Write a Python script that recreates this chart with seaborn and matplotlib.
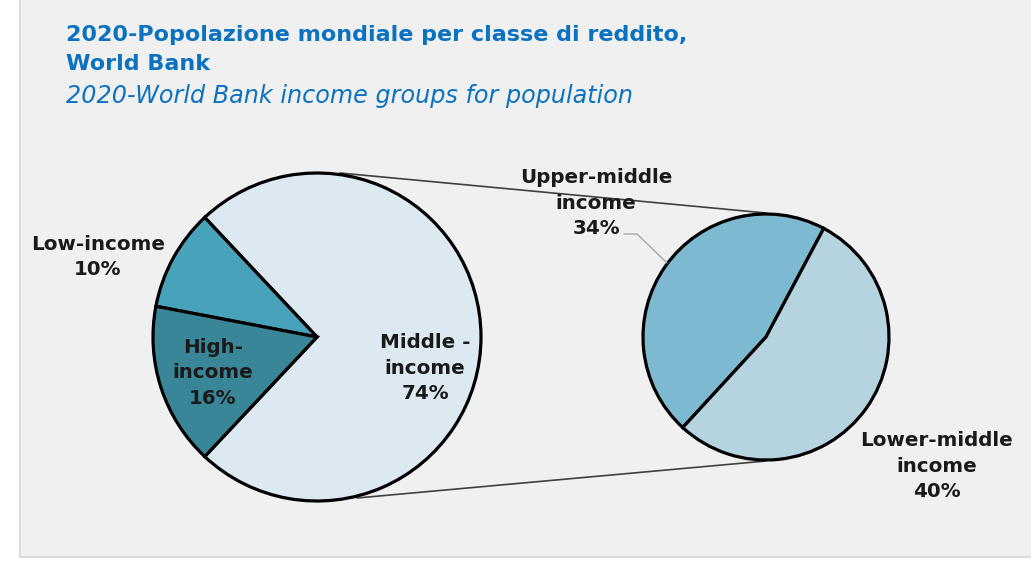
import matplotlib
matplotlib.use("Agg")
import matplotlib.pyplot as plt
from matplotlib.patches import Rectangle
import seaborn as sns

# Income groups (share of world population, 2020)
main_labels = ["Middle -\nincome", "Low-income", "High-\nincome"]
main_values = [74, 10, 16]
sub_labels = ["Upper-middle\nincome", "Lower-middle\nincome"]
sub_values = [34, 40]

main_colors = ["#DCE9F0", "#48A2BA", "#3A8699"]
sub_colors = ["#7DB9D0", "#B5D4DF"]

sns.set_theme(style="white")
plt.rcParams["font.family"] = ["DejaVu Sans"]

W, H = 1031, 561
fig = plt.figure(figsize=(W / 100, H / 100), dpi=100)
fig.patch.set_facecolor("white")
ax = fig.add_axes([0, 0, 1, 1])

def Y(y):
    return H - y

# panel background
ax.add_patch(Rectangle((20, Y(557)), 1040, 600, facecolor="#F0F0F0",
                       edgecolor="#D6D6D6", linewidth=1.2, zorder=0))

edge = dict(edgecolor="black", linewidth=2.3)

# main pie: middle slice centred on the right
total = sum(main_values)
mid_angle = main_values[0] / total * 360
ax.pie(main_values, colors=main_colors, center=(317, Y(337)), radius=164,
       startangle=-mid_angle / 2, counterclock=True, wedgeprops=edge,
       frame=True)

# secondary pie splitting the middle group
ax.pie(sub_values, colors=sub_colors, center=(766, Y(337)), radius=123,
       startangle=62, counterclock=True, wedgeprops=edge, frame=True)

# connector lines between the pies
ax.plot([340, 766], [Y(173), Y(213)], color="#404040", lw=1.2, zorder=0.5)
ax.plot([357, 766], [Y(498), Y(461)], color="#404040", lw=1.2, zorder=0.5)

lab = dict(ha="center", va="center", fontsize=14.3, fontweight="bold",
           color="#1A1A1A", linespacing=1.42)

def pct(v):
    return f"{v}%"

ax.text(98, Y(257), f"{main_labels[1]}\n{pct(main_values[1])}", **lab)
ax.text(213, Y(373), f"{main_labels[2]}\n{pct(main_values[2])}", **lab)
ax.text(425, Y(368), f"{main_labels[0]}\n{pct(main_values[0])}", **lab)
ax.text(596, Y(203), f"{sub_labels[0]}\n{pct(sub_values[0])}", **lab)
ax.text(937, Y(466), f"{sub_labels[1]}\n{pct(sub_values[1])}", **lab)

# leader line for the upper-middle label
ax.plot([624, 637, 667], [Y(234), Y(234), Y(263)], color="#A6A6A6", lw=1.0)

# titles
ax.text(66, Y(35), "2020-Popolazione mondiale per classe di reddito,",
        ha="left", va="center", fontsize=16, fontweight="bold", color="#0B72C0")
ax.text(66, Y(64), "World Bank", ha="left", va="center", fontsize=16,
        fontweight="bold", color="#0B72C0")
ax.text(66, Y(96), "2020-World Bank income groups for population",
        ha="left", va="center", fontsize=17.2, style="italic", color="#0B72C0")

ax.set_xlim(0, W)
ax.set_ylim(0, H)
ax.set_aspect("equal")
ax.axis("off")

fig.savefig("out.png", dpi=100, facecolor="white")
